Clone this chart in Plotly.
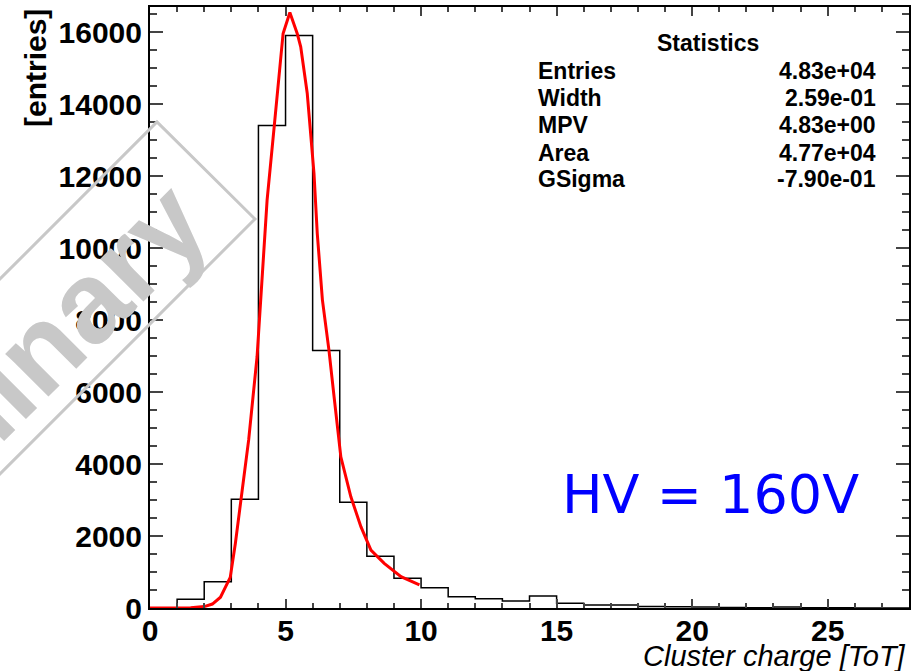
import math
import plotly.graph_objects as go

# ---- data ----
bin_left = [0, 1, 2, 3, 4, 5, 6, 7, 8, 9, 10, 11, 12, 13,
            14, 15, 16, 17, 18, 19, 20, 21, 22, 23, 24, 25, 26, 27]
bin_width = 1
counts = [0, 240, 730, 3020, 13400, 15900, 7150, 2935, 1435, 825, 565, 315, 260, 195,
          333, 130, 83, 80, 40, 35, 30, 15, 10, 25, 8, 5, 3, 2]

fit_x = [0.0, 1.0, 1.5, 2.0, 2.3, 2.6, 2.96, 3.15, 3.33, 3.64, 3.95, 4.32, 4.57, 4.81,
         4.91, 5.16, 5.43, 5.56, 5.8, 6.05, 6.17, 6.36, 6.6, 6.79, 7.04, 7.41, 7.78,
         8.15, 8.64, 9.26, 9.94]
fit_y = [0, 0, 5, 40, 110, 300, 850, 1800, 2810, 4670, 6980, 11330, 13280, 15220,
         15960, 16540, 15960, 15590, 14300, 12070, 10410, 8560, 7170, 5870, 4200, 3090, 2260,
         1610, 1240, 870, 640]

stat_names = ["Entries", "Width", "MPV", "Area", "GSigma"]
stat_values = ["4.83e+04", "2.59e-01", "4.83e+00", "4.77e+04", "-7.90e-01"]

x_range = [0, 28]
y_range = [0, 16695]

# ---- figure ----
W, H = 916, 671
L, R, T, B = 150, 7, 7, 63
pw, ph = W - L - R, H - T - B


def px(xp):
    return (xp - L) / pw


def py(yp):
    return (H - B - yp) / ph


step_x = bin_left + [bin_left[-1] + bin_width]
step_y = counts + [counts[-1]]

fig = go.Figure()
fig.add_trace(go.Scatter(x=step_x, y=step_y, mode="lines", line_shape="hv",
                         line=dict(color="black", width=1.5), hoverinfo="skip"))
fig.add_trace(go.Scatter(x=fit_x, y=fit_y, mode="lines",
                         line=dict(color="#ff0000", width=3), hoverinfo="skip"))

tickfont = dict(family="Liberation Sans, Arial, sans-serif", size=30, color="black", weight="bold")

fig.update_xaxes(range=x_range, dtick=5, tick0=0, ticks="inside", ticklen=9, tickwidth=1.5,
                 showline=True, linewidth=2, linecolor="black", mirror="ticks",
                 showgrid=False, zeroline=False, tickfont=tickfont, automargin=False,
                 tickformat="d", ticklabelstandoff=-5,
                 minor=dict(dtick=1, ticks="inside", ticklen=5, tickwidth=1.5, showgrid=False))
fig.update_yaxes(range=y_range, dtick=2000, tick0=0, ticks="inside", ticklen=13, tickwidth=1.5,
                 showline=True, linewidth=2, linecolor="black", mirror="ticks",
                 showgrid=False, zeroline=False, tickfont=tickfont, automargin=False,
                 tickformat="d",
                 minor=dict(dtick=500, ticks="inside", ticklen=7, tickwidth=1.5, showgrid=False))

annotations = []
# axis titles
annotations.append(dict(text="[entries]", x=px(35), y=py(68), xref="paper", yref="paper",
                        showarrow=False, textangle=-90, xanchor="center", yanchor="middle",
                        font=dict(family="Liberation Sans, Arial, sans-serif", size=30,
                                  color="black", weight="bold")))
annotations.append(dict(text="<i>Cluster charge [ToT]</i>", x=px(908), y=py(656), xref="paper",
                        yref="paper", showarrow=False, xanchor="right", yanchor="middle",
                        font=dict(family="Liberation Sans, Arial, sans-serif", size=29,
                                  color="black")))
# statistics box
statfont = dict(family="Liberation Sans, Arial, sans-serif", size=23, color="black", weight="bold")
annotations.append(dict(text="Statistics", x=px(708), y=py(43), xref="paper", yref="paper",
                        showarrow=False, xanchor="center", yanchor="middle", font=statfont))
row_y = [71, 98, 125, 153, 179]
for name, val, ry in zip(stat_names, stat_values, row_y):
    annotations.append(dict(text=name, x=px(536), y=py(ry), xref="paper", yref="paper",
                            showarrow=False, xanchor="left", yanchor="middle", font=statfont))
    annotations.append(dict(text=val, x=px(878), y=py(ry), xref="paper", yref="paper",
                            showarrow=False, xanchor="right", yanchor="middle", font=statfont))
# HV label
annotations.append(dict(text="HV = 160V", x=px(710), y=py(495), xref="paper", yref="paper",
                        showarrow=False, xanchor="center", yanchor="middle",
                        font=dict(family="DejaVu Sans", size=54, color="#0000ff")))
# watermark (rotated 45 degrees, partly outside the canvas)
wm_u, wm_v = -325.0, 275.0
wm_x = (wm_u + wm_v) / math.sqrt(2)
wm_y = (wm_v - wm_u) / math.sqrt(2)
annotations.append(dict(text="Preliminary", x=px(wm_x), y=py(wm_y), xref="paper", yref="paper",
                        showarrow=False, xanchor="center", yanchor="middle", textangle=-45,
                        font=dict(family="Liberation Sans, Arial, sans-serif", size=115,
                                  color="#c8c8c8", weight="bold")))

box_pts = [(-300, 579), (157, 122), (255, 219), (-300, 774)]
path = "M " + " L ".join(f"{px(a):.4f},{py(b):.4f}" for a, b in box_pts)
shapes = [dict(type="path", xref="paper", yref="paper", path=path,
               line=dict(color="#c8c8c8", width=3), layer="above")]

fig.update_layout(width=W, height=H, margin=dict(l=L, r=R, t=T, b=B, autoexpand=False),
                  paper_bgcolor="white", plot_bgcolor="white", showlegend=False,
                  annotations=annotations, shapes=shapes)

fig.write_html("out.html", config={"displayModeBar": False},
               post_script="document.body.style.margin='0px';document.body.style.overflow='hidden';")
